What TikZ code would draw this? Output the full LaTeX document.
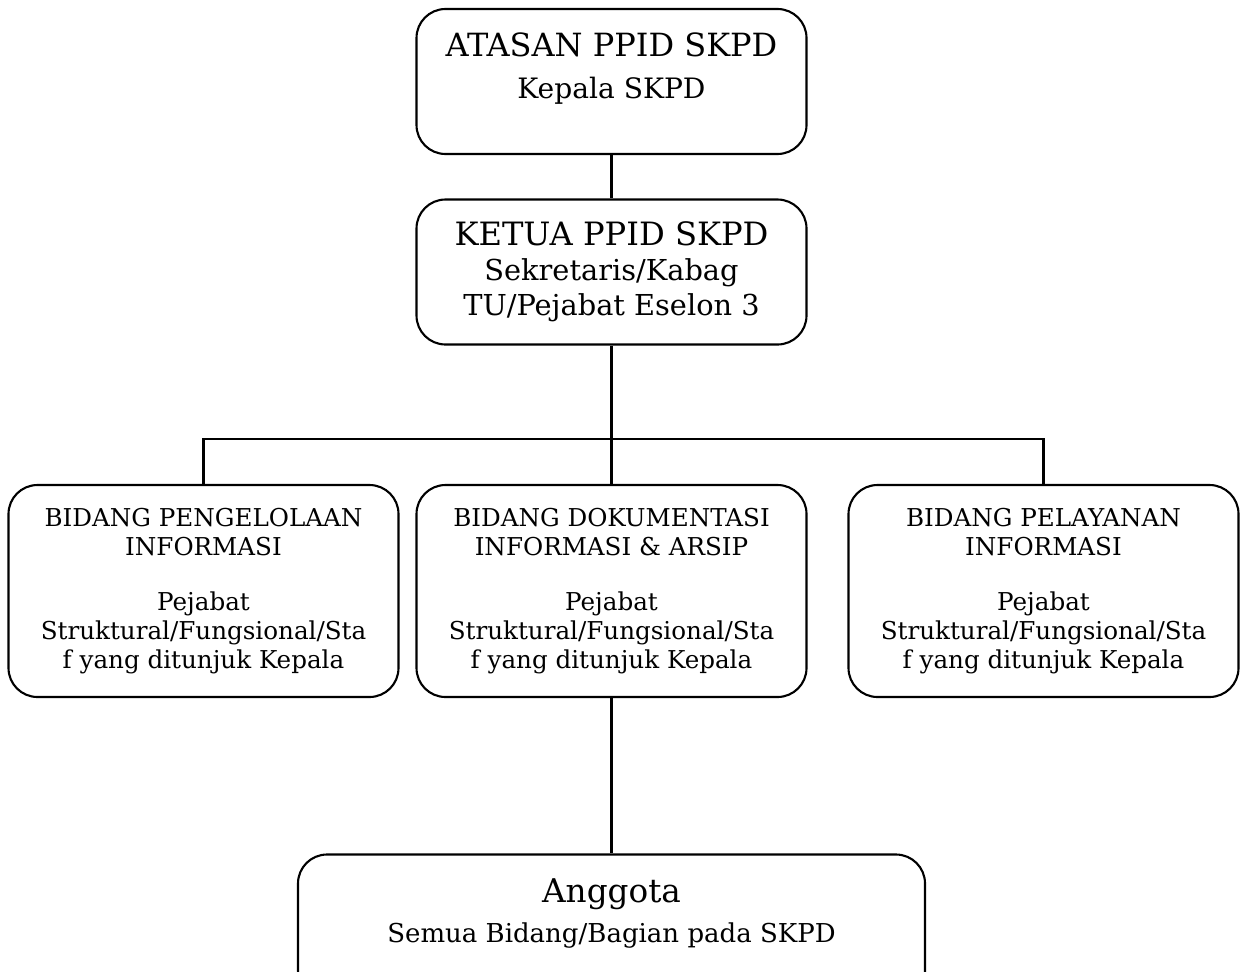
\documentclass[tikz,border=0pt]{standalone}
\usepackage{fontspec}
\setmainfont{DejaVu Serif}
\usetikzlibrary{positioning}
\tikzstyle{head} = [rectangle, rounded corners=0.58cm, minimum width=7.8cm, minimum height=2.9cm, text centered, align=center, draw=black, line width=1.2pt]
\tikzstyle{field} = [head, minimum height=4.24cm, font=\fontsize{14}{16.4}\selectfont]
\tikzstyle{member} = [head, minimum width=12.54cm, minimum height=2.9cm, font=\fontsize{18.6}{22.7}\selectfont]
\tikzstyle{line} = [line width=1.2pt]

\begin{document}
\begin{tikzpicture}[node distance=3.81cm]
        \useasboundingbox (0,0) rectangle (24.8,-19.42);
        \node (atasan) [head, font=\fontsize{18.2}{23.8}\selectfont] at (12.23,-1.63) {ATASAN PPID SKPD\\ \fontsize{16}{23.8}\selectfont Kepala SKPD\\[-6pt] \mbox{}};
        \node (ketua) [head, below of=atasan, font=\fontsize{18.3}{19.8}\selectfont] {KETUA PPID SKPD\\ \fontsize{16.4}{19.8}\selectfont Sekretaris/Kabag\\ \fontsize{16.4}{19.8}\selectfont TU/Pejabat Eselon 3};
        \node (dok) [field, below of=ketua, yshift=-2.57cm] {BIDANG DOKUMENTASI\\ INFORMASI \& ARSIP\\[15pt] Pejabat\\ Struktural/Fungsional/Sta\\ f yang ditunjuk Kepala};
        \node (kelola) [field, left of=dok, xshift=-4.35cm] {BIDANG PENGELOLAAN\\ INFORMASI\\[15pt] Pejabat\\ Struktural/Fungsional/Sta\\ f yang ditunjuk Kepala};
        \node (layan) [field, right of=dok, xshift=4.83cm] {BIDANG PELAYANAN\\ INFORMASI\\[15pt] Pejabat\\ Struktural/Fungsional/Sta\\ f yang ditunjuk Kepala};
        \node (anggota) [member, below of=dok, yshift=-2.91cm] {Anggota\\ \fontsize{14.8}{22.7}\selectfont Semua Bidang/Bagian pada SKPD\\[-4.3pt] \mbox{}};
        \draw [line] (atasan) -- (ketua);
        \draw [line] (ketua) -- (dok);
        \draw [line] (kelola.north) -- ++(0,0.9) -| (layan.north);
        \draw [line] (dok) -- (anggota);
    \end{tikzpicture}
\end{document}
